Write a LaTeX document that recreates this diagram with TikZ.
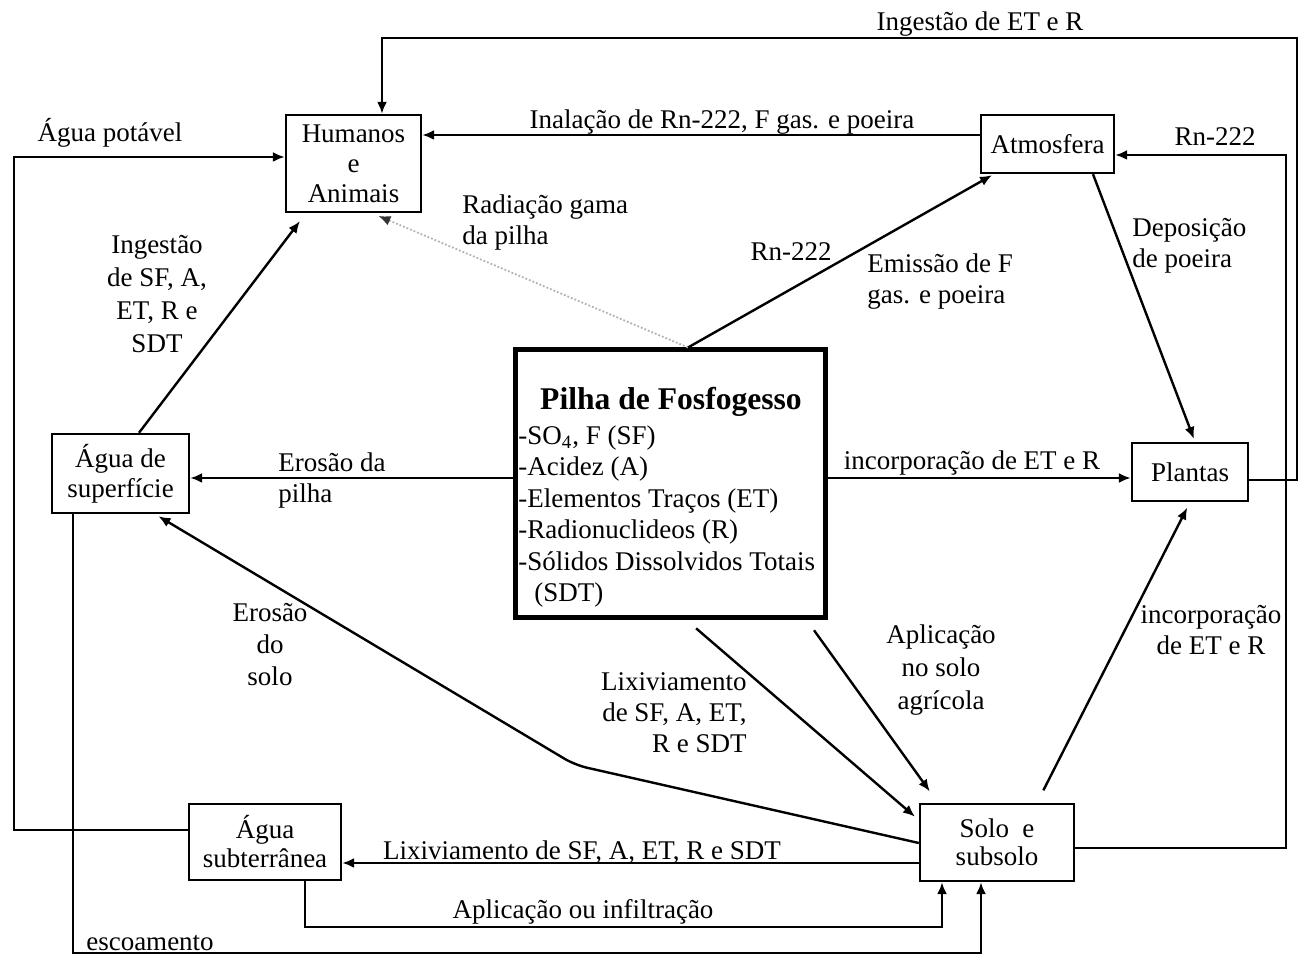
\documentclass[tikz,border=0pt]{standalone}
\usepackage{fontspec}
\setmainfont{Liberation Serif}
\usetikzlibrary{arrows.meta}
\begin{document}
\begin{tikzpicture}[x=0.5pt,y=-0.5pt,
  every node/.style={font=\fontsize{13.5}{15.5}\selectfont, inner sep=0pt},
  box/.style={draw, line width=1.2pt, align=center},
  lbl/.style={align=center},
  lblL/.style={align=left, anchor=west},
  lblR/.style={align=right, anchor=east},
  arr/.style={line width=1.2pt, -{Latex[length=6pt,width=5pt]}},
  radarr/.style={line width=0.9pt, gray!60, densely dotted,
    -{Latex[length=6pt,width=5pt,black!80]}}]
\useasboundingbox (0,0) rectangle (1298,956);

% compartments
\node[box, minimum width=67.5pt, minimum height=48.5pt,
      font=\fontsize{13.5}{15}\selectfont] (HA) at (353.5,163.5) {Humanos\\e\\Animais};
\node[box, minimum width=66.5pt, minimum height=29pt] (Atm) at (1047.5,144) {Atmosfera};
\node[box, minimum width=68.5pt, minimum height=39.5pt,
      font=\fontsize{13.5}{15}\selectfont] (ASup) at (120.5,473.5) {Água de\\superfície};
\node[draw, line width=2.5pt, minimum width=155pt, minimum height=134pt] (Pilha) at (670,484) {};
\node[box, minimum width=58pt, minimum height=29pt] (Plantas) at (1190,472) {Plantas};
\node[box, minimum width=77pt, minimum height=38.5pt,
      font=\fontsize{13.5}{14}\selectfont] (Solo) at (997,842.5) {Solo~~e\\subsolo};
\node[box, minimum width=76pt, minimum height=38pt,
      font=\fontsize{13.5}{14.5}\selectfont] (ASub) at (265,842) {Água\\subterrânea};

% contents of the phosphogypsum stack
\node[font=\fontsize{15.8}{18}\selectfont\bfseries] (PTitle) at (671,402) {Pilha de Fosfogesso};
\node[lblL, font=\fontsize{13.5}{15.7}\selectfont] (PList) at (518,516.5)
  {-SO\textsubscript{4}, F (SF)\\-Acidez (A)\\-Elementos Traços (ET)\\-Radionuclideos (R)\\-Sólidos Dissolvidos Totais\\\hspace*{8pt}(SDT)};

% corner points of the routed connectors
\coordinate (tr1) at (1297,480);
\coordinate (tr2) at (1297,38);
\coordinate (tl)  at (382,38);
\coordinate (rb)  at (1286,848);
\coordinate (rt)  at (1286,155);
\coordinate (yIn) at (0,135);
\coordinate (lb)  at (14,830);
\coordinate (lt)  at (14,157);
\coordinate (eb1) at (73,953);
\coordinate (eb2) at (981,953);
\coordinate (ib1) at (305,927);
\coordinate (ib2) at (942,927);
\coordinate (yLx) at (0,863);
\coordinate (eS)  at (0,843);
\coordinate (bend) at (575,765);
\coordinate (yEp) at (0,478);

% connectors
\draw[arr] (Plantas.east |- tr1) -- (tr1) -- (tr2) -- (tl) -- (tl |- HA.north);
\draw[arr] (Solo.east |- rb) -- (rb) -- (rt) -- (rt -| Atm.east);
\draw[arr] (Atm.west |- yIn) -- (HA.east |- yIn);
\draw[arr] (ASub.west |- lb) -- (lb) -- (lt) -- (HA.west |- lt);
\draw[arr] (ASup.south -| eb1) -- (eb1) -- (eb2) -- (Solo.south -| eb2);
\draw[arr] (ASub.south -| ib1) -- (ib1) -- (ib2) -- (Solo.south -| ib2);
\draw[arr] (Solo.west |- yLx) -- (ASub.east |- yLx);
\draw[arr, rounded corners=6pt, shorten >=2pt] (Solo.west |- eS) -- (bend) -- ([xshift=17.25pt]ASup.south);
\draw[arr, shorten >=5pt] ([xshift=9.25pt]ASup.north) -- ([xshift=-23.75pt]HA.south);
\draw[radarr, shorten >=3.5pt] ([xshift=9pt]Pilha.north) -- ([xshift=9.25pt]HA.south);
\draw[arr, shorten >=1pt] ([xshift=9pt]Pilha.north) -- ([xshift=7pt]Atm.south west);
\draw[arr] (Pilha.west |- yEp) -- (ASup.east |- yEp);
\draw[arr] (Pilha.east |- yEp) -- (Plantas.west |- yEp);
\draw[arr, shorten >=1.5pt] ([xshift=22.75pt]Atm.south) -- ([xshift=2.5pt]Plantas.north);
\draw[arr, shorten <=7pt, shorten >=3pt] ([xshift=20pt]Solo.north) -- (Plantas.south);
\draw[arr, shorten <=6pt, shorten >=2.5pt] ([xshift=8.5pt]Pilha.south) -- ([yshift=11.25pt]Solo.west);
\draw[arr, shorten <=6pt, shorten >=7pt] ([xshift=68.5pt]Pilha.south) -- ([xshift=-29.5pt]Solo.north);

% flow labels
\node[lbl] (lIngET) at (980,24) {Ingestão de ET e R};
\node[lbl] (lAgua) at (110,133) {Água potável};
\node[lbl] (lInal) at (722,122) {Inalação de Rn-222, F gas. e poeira};
\node[lbl] (lRnR) at (1215,137) {Rn-222};
\node[lblL] (lRad) at (462,223) {Radiação gama\\da pilha};
\node[lbl, font=\fontsize{13.5}{16.5}\selectfont] (lIng) at (157,294) {Ingestão\\de SF, A,\\ET, R e\\SDT};
\node[lbl] (lRnD) at (791,252) {Rn-222};
\node[lblL] (lEm) at (867,282) {Emissão de F\\gas. e poeira};
\node[lblL] (lDep) at (1132,246) {Deposição\\de poeira};
\node[lblL] (lEp) at (278,481) {Erosão da\\pilha};
\node[lbl] (lInc) at (972,463) {incorporação de ET e R};
\node[lbl] (lInc2) at (1211,630) {incorporação\\de ET e R};
\node[lbl, font=\fontsize{13.5}{16}\selectfont] (lEs) at (270,645) {Erosão\\do\\solo};
\node[lblR] (lLx) at (747,713) {Lixiviamento\\de SF, A, ET,\\R e SDT};
\node[lbl, font=\fontsize{13.5}{16.5}\selectfont] (lAp) at (941,670) {Aplicação\\no solo\\agrícola};
\node[lbl] (lLx2) at (582,852) {Lixiviamento de SF, A, ET, R e SDT};
\node[lbl] (lAi) at (583,912) {Aplicação ou infiltração};
\node[lbl] (lEsc) at (150,943) {escoamento};
\end{tikzpicture}
\end{document}
